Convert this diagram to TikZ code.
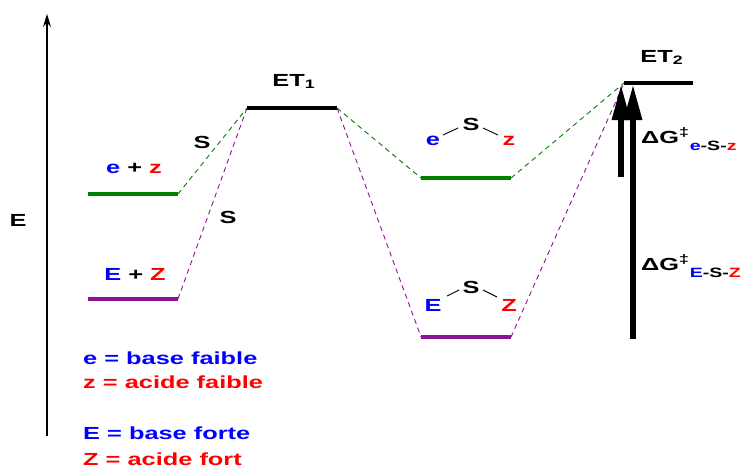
\documentclass[tikz,border=0pt]{standalone}
\usepackage{fontspec}
\setmainfont{Liberation Sans}
\usetikzlibrary{arrows.meta}
\definecolor{gr}{RGB}{0,128,0}
\definecolor{pu}{RGB}{140,20,150}
\definecolor{bl}{RGB}{0,0,255}
\definecolor{rd}{RGB}{255,0,0}
\newcommand{\B}[1]{\textcolor{bl}{#1}}
\newcommand{\R}[1]{\textcolor{rd}{#1}}
\newcommand{\sx}[1]{\scalebox{1.45}[1]{#1}}
\newcommand{\dgsub}[1]{{\fontsize{13.5}{16}\selectfont\raisebox{-7pt}{#1}}}
\begin{document}
\begin{tikzpicture}[x=1pt,y=-1pt,
  lvl/.style={line width=4pt},
  dsh/.style={line width=0.9pt,dash pattern=on 5pt off 4pt},
  txt/.style={font=\bfseries\fontsize{17.5}{20}\selectfont,inner sep=0pt},
  big/.style={line width=6pt,-{Triangle[length=36pt,width=17pt]}},
  bond/.style={line width=0.9pt}]
\useasboundingbox (0,0) rectangle (741,469);
% axis
\coordinate (a0) at (47,436);
\coordinate (a1) at (47,14);
\draw[line width=1.3pt,-{Stealth[length=13pt,width=8pt]}] (a0) -- (a1);
\node[txt] (Elab) at (18,220) {\sx{E}};
% levels
\coordinate (g1a) at (88,194); \coordinate (g1b) at (178,194);
\coordinate (p1a) at (88,299); \coordinate (p1b) at (178,299);
\coordinate (t1a) at (247,108); \coordinate (t1b) at (337,108);
\coordinate (g2a) at (421,178); \coordinate (g2b) at (511,178);
\coordinate (p2a) at (421,337); \coordinate (p2b) at (511,337);
\coordinate (t2a) at (624,83); \coordinate (t2b) at (693,83);
\draw[lvl,gr] (g1a) -- (g1b);
\draw[lvl,pu] (p1a) -- (p1b);
\draw[lvl,black] (t1a) -- (t1b);
\draw[lvl,gr] (g2a) -- (g2b);
\draw[lvl,pu] (p2a) -- (p2b);
\draw[lvl,black] (t2a) -- (t2b);
% dashed connectors
\draw[dsh,gr] (g1b) -- (t1a);
\draw[dsh,pu] (p1b) -- (t1a);
\draw[dsh,gr] (t1b) -- (g2a);
\draw[dsh,pu] (t1b) -- (p2a);
\draw[dsh,gr] (g2b) -- (t2a);
\draw[dsh,pu] (p2b) -- (t2a);
% labels
\node[txt,anchor=base] (et1) at (294,86) {\sx{ET\textsubscript{1}}};
\node[txt,anchor=base] (et2) at (662,62) {\sx{ET\textsubscript{2}}};
\node[txt] (s1) at (202,142) {\sx{S}};
\node[txt] (s2) at (228,217) {\sx{S}};
\node[txt,anchor=base] (ez) at (134,173) {\sx{\B{e} + \R{z}}};
\node[txt,anchor=base] (EZ) at (135,280) {\sx{\B{E} + \R{Z}}};
% e-S-z
\node[txt,anchor=base] (e3) at (433,145) {\sx{\B{e}}};
\node[txt,anchor=base] (S3) at (471,130) {\sx{S}};
\node[txt,anchor=base] (z3) at (509,145) {\sx{\R{z}}};
\draw[bond] (443,135) -- (458,128);
\draw[bond] (483,128) -- (498,135);
% E-S-Z
\node[txt,anchor=base] (E4) at (433,311) {\sx{\B{E}}};
\node[txt,anchor=base] (S4) at (471,293) {\sx{S}};
\node[txt,anchor=base] (Z4) at (509,311) {\sx{\R{Z}}};
\draw[bond] (447,296) -- (459,290);
\draw[bond] (483,290) -- (497,297);
% arrows
\coordinate (ar1) at (621,177); \coordinate (ar1t) at (621,84);
\coordinate (ar2) at (633,339); \coordinate (ar2t) at (633,84);
\draw[big] (ar1) -- (ar1t);
\draw[big] (ar2) -- (ar2t);
\node[txt,anchor=base west] (dg1) at (641,143) {\sx{ΔG\textsuperscript{‡}\dgsub{\B{e}-S-\R{z}}}};
\node[txt,anchor=base west] (dg2) at (641,270) {\sx{ΔG\textsuperscript{‡}\dgsub{\B{E}-S-\R{Z}}}};
% legend
\node[txt,anchor=base west,bl] (l1) at (83,364) {\sx{e = base faible}};
\node[txt,anchor=base west,rd] (l2) at (83,388) {\sx{z = acide faible}};
\node[txt,anchor=base west,bl] (l3) at (83,439) {\sx{E = base forte}};
\node[txt,anchor=base west,rd] (l4) at (83,465) {\sx{Z = acide fort}};
\end{tikzpicture}
\end{document}
